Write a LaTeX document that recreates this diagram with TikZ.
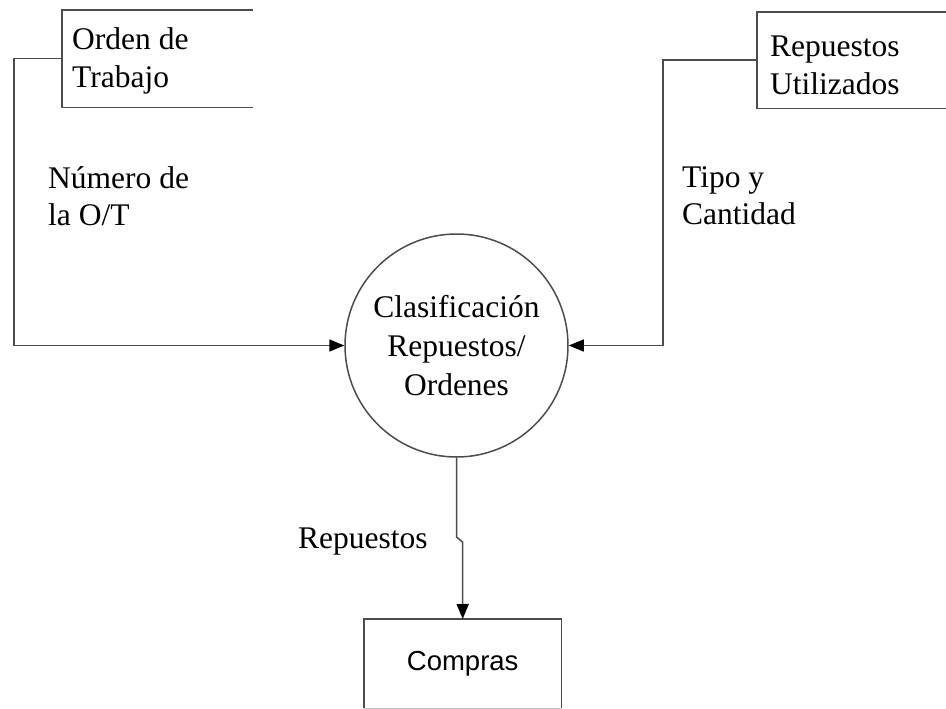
\documentclass[tikz,border=0pt]{standalone}
\usepackage{fontspec}
\setmainfont{Liberation Serif}
\newfontfamily\arialf{Liberation Sans}
\usetikzlibrary{arrows.meta}
\newcommand{\twol}[2]{\vtop{\hbox{#1}\hbox{#2}}}
\begin{document}
\begin{tikzpicture}[x=1pt,y=-1pt,
  lbl/.style={font=\fontsize{31.5}{37.5}\selectfont, text=black, inner sep=0pt, anchor=base west},
  ln/.style={line width=1.5pt, draw=black!70},
  arr/.style={ln, -{Triangle[length=15pt,width=12pt,color=black]}},
  ]
\useasboundingbox (0,0) rectangle (946,709);
% boxes (open on the right)
\node[minimum width=191pt, minimum height=97pt, inner sep=0pt, anchor=north west] (b1) at (62,10) {};
\draw[ln] (b1.north east) -- (b1.north west) -- (b1.south west) -- (b1.south east);
\node[lbl] (t1) at (72,50) {\twol{Orden de}{Trabajo}};

\node[minimum width=189pt, minimum height=96pt, inner sep=0pt, anchor=north west] (b2) at (757,12) {};
\draw[ln] (b2.north east) -- (b2.north west) -- (b2.south west) -- (b2.south east);
\node[lbl] (t2) at (770,57) {\twol{Repuestos}{Utilizados}};

% process
\node[circle, ln, draw, minimum size=223pt, inner sep=0pt, align=center, text=black,
  font=\fontsize{31.5}{39}\selectfont] (c) at (456.5,345.5) {Clasificación\\Repuestos/\\Ordenes};

% Compras
\node[minimum width=197pt, minimum height=89pt, inner sep=0pt, anchor=north west, text=black,
  font=\arialf\fontsize{27.5}{31}\selectfont] (cp) at (364,619) {Compras};
\draw[ln] (cp.south west) -- (cp.north west) -- (cp.north east) -- (cp.south east);
\draw[line width=1.5pt, draw=black!25] (cp.south west) -- (cp.south east);

% connectors
\draw[arr] (b1.west) -- ++(-48,0) |- (c.west);
\draw[arr] (b2.west) -- ++(-94,0) |- (c.east);
\coordinate (j1) at (456.5,537);
\coordinate (j2) at (462.5,542);
\draw[arr] (c.south) -- (j1) -- (j2) -- (cp.north);

% labels
\node[lbl] (l1) at (48,188) {\twol{Número de}{la O/T}};
\node[lbl] (l2) at (682,187) {\twol{Tipo y}{Cantidad}};
\node[lbl] (l3) at (298,548) {Repuestos};
\end{tikzpicture}
\end{document}
